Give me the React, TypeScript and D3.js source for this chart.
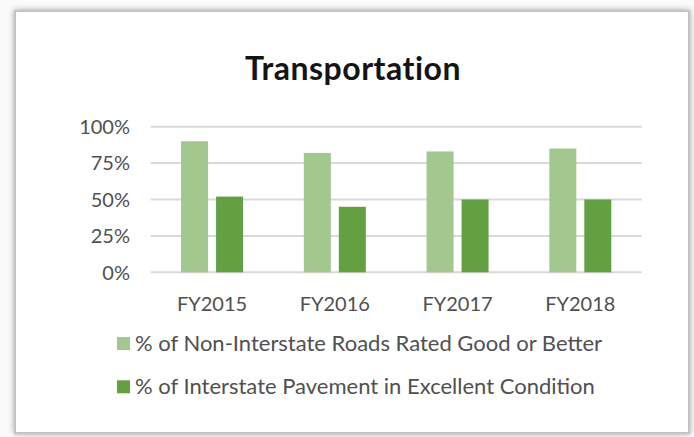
import React, { useEffect, useRef } from "react";
import * as d3 from "d3";

const categories = ["FY2015", "FY2016", "FY2017", "FY2018"];
const seriesNames = [
  "% of Non-Interstate Roads Rated Good or Better",
  "% of Interstate Pavement in Excellent Condition",
];
const nonInterstate = [90, 82, 83, 85];
const interstate = [52, 45, 50, 50];
const yTicks = [0, 25, 50, 75, 100];
const title = "Transportation";
const colors = ["#a2c78f", "#62a042"];

const W = 694;
const H = 437;
const FONT = "Lato, 'Open Sans', sans-serif";

export default function App() {
  const ref = useRef<SVGSVGElement>(null);

  useEffect(() => {
    const svg = d3.select(ref.current);
    svg.selectAll("*").remove();

    const defs = svg.append("defs");
    const f = defs
      .append("filter")
      .attr("id", "shadow")
      .attr("x", "-5%")
      .attr("y", "-5%")
      .attr("width", "110%")
      .attr("height", "110%");
    f.append("feGaussianBlur").attr("in", "SourceAlpha").attr("stdDeviation", 3);
    f.append("feOffset").attr("dx", 0).attr("dy", 0).attr("result", "b");
    f.append("feComponentTransfer")
      .append("feFuncA")
      .attr("type", "linear")
      .attr("slope", 0.35);
    const m = f.append("feMerge");
    m.append("feMergeNode");
    m.append("feMergeNode").attr("in", "SourceGraphic");

    svg.append("rect").attr("width", W).attr("height", H).attr("fill", "#fbfbfb");

    svg
      .append("rect")
      .attr("x", 15)
      .attr("y", 11)
      .attr("width", 674)
      .attr("height", 422)
      .attr("fill", "#ffffff")
      .attr("stroke", "#c4c4c4")
      .attr("stroke-width", 2)
      .attr("filter", "url(#shadow)");

    // title
    svg
      .append("text")
      .attr("x", 353)
      .attr("y", 80)
      .attr("text-anchor", "middle")
      .attr("font-family", FONT)
      .attr("font-weight", 700)
      .attr("font-size", 32)
      .attr("letter-spacing", 0.5)
      .attr("fill", "#141414")
      .text(title);

    const plotLeft = 150.7;
    const plotRight = 641.7;
    const y = d3.scaleLinear().domain([0, 100]).range([272.3, 126.7]);
    const x0 = d3.scaleBand<string>().domain(categories).range([plotLeft, plotRight]).padding(0);
    const groupW = 62;
    const x1 = d3
      .scaleBand<number>()
      .domain([0, 1])
      .range([0, groupW])
      .paddingInner(2 - groupW / 35)
      .paddingOuter(0);

    // gridlines
    svg
      .append("g")
      .selectAll("line")
      .data(yTicks)
      .join("line")
      .attr("x1", plotLeft)
      .attr("x2", plotRight)
      .attr("y1", (d) => y(d))
      .attr("y2", (d) => y(d))
      .attr("stroke", "#d9d9d9")
      .attr("stroke-width", 2);

    // y tick labels
    svg
      .append("g")
      .selectAll("text")
      .data(yTicks)
      .join("text")
      .attr("x", 130)
      .attr("y", (d) => y(d))
      .attr("dy", "0.36em")
      .attr("text-anchor", "end")
      .attr("font-family", FONT)
      .attr("font-size", 20)
      .attr("fill", "#505050")
      .text((d) => `${d}%`);

    const series = [nonInterstate, interstate];
    const groups = svg
      .append("g")
      .selectAll("g")
      .data(categories)
      .join("g")
      .attr("transform", (c) => `translate(${x0(c)! + (x0.bandwidth() - groupW) / 2},0)`);

    groups
      .selectAll("rect")
      .data((c, i) => series.map((s, si) => ({ si, v: s[i] })))
      .join("rect")
      .attr("x", (d) => x1(d.si)!)
      .attr("width", x1.bandwidth())
      .attr("y", (d) => y(d.v))
      .attr("height", (d) => y(0) - y(d.v))
      .attr("fill", (d) => colors[d.si]);

    // x labels
    svg
      .append("g")
      .selectAll("text")
      .data(categories)
      .join("text")
      .attr("x", (c) => x0(c)! + x0.bandwidth() / 2)
      .attr("y", 310.5)
      .attr("text-anchor", "middle")
      .attr("font-family", FONT)
      .attr("font-size", 20)
      .attr("fill", "#505050")
      .text((c) => c);

    // legend
    const leg = svg
      .append("g")
      .selectAll("g")
      .data(seriesNames)
      .join("g")
      .attr("transform", (d, i) => `translate(117,${337 + i * 43.3})`);
    leg
      .append("rect")
      .attr("width", 13)
      .attr("height", 13)
      .attr("fill", (d, i) => colors[i]);
    leg
      .append("text")
      .attr("x", 18)
      .attr("y", 13.5)
      .attr("font-family", FONT)
      .attr("font-size", 22)
      .attr("fill", "#505050")
      .text((d) => d);
  }, []);

  return (
    <svg
      ref={ref}
      width={W}
      height={H}
      style={{ position: "absolute", left: 0, top: 0, display: "block" }}
    />
  );
}
